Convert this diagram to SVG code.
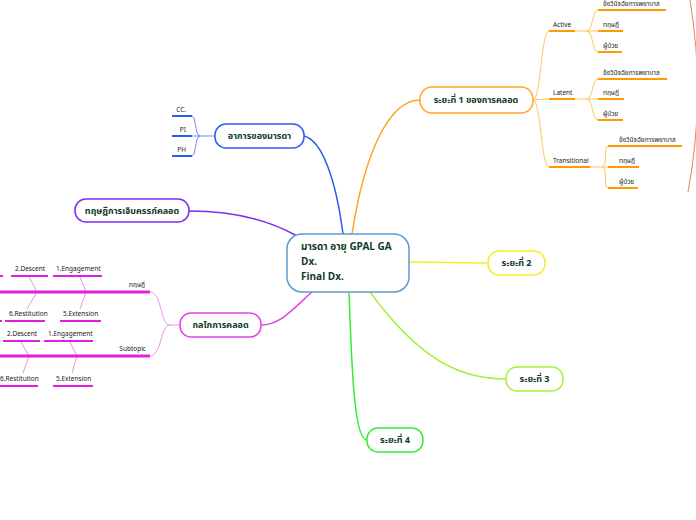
<svg xmlns="http://www.w3.org/2000/svg" width="696" height="520" viewBox="0 0 696 520">
<style>
.t{font-family:"Noto Sans Thai","Noto Sans","DejaVu Sans",sans-serif;fill:#0f3b26;font-weight:bold;}
.s{font-family:"Noto Sans Thai","Noto Sans","DejaVu Sans",sans-serif;fill:#222;font-size:6.5px;}
.node{fill:#fff;stroke-width:1.5;}
.c{fill:none;stroke-width:1.5;}
.b{fill:none;stroke-width:1;}
.u{fill:none;stroke-width:2;}
</style>
<rect width="696" height="520" fill="#fff"/>
<g id="connectors">
  <path class="c" stroke="#ffa526" d="M352,234 C365,150 390,100 420,100"/>
  <path class="c" stroke="#2a5cf0" d="M343,234 C336,180 322,140 304,136"/>
  <path class="c" stroke="#7b2cf5" d="M297,236 C260,215 220,211 189,211"/>
  <path class="c" stroke="#e444e4" d="M313,291 C292,310 280,325 261,325"/>
  <path class="c" stroke="#f0f02a" d="M409,262 C440,262 460,263 488,263"/>
  <path class="c" stroke="#a6f23e" d="M370,292 C420,360 460,379 506,379"/>
  <path class="c" stroke="#35ec35" d="M349,292 C352,380 355,440 367,440"/>
  <g stroke="#ffc45a">
    <path class="b" d="M533,100 C541,100 541,31 549,31"/>
    <path class="b" d="M533,100 L549,99"/>
    <path class="b" d="M533,100 C541,100 541,167 549,167"/>
    <path class="b" d="M575,31 L587,31 C593,31 592,10 598,10"/>
    <path class="b" d="M587,31 L598,31"/>
    <path class="b" d="M587,31 C593,31 592,52 598,52"/>
    <path class="b" d="M575,99 L587,99 C593,99 592,79 598,79"/>
    <path class="b" d="M587,99 L598,99"/>
    <path class="b" d="M587,99 C593,99 592,120 598,120"/>
    <path class="b" d="M590,167 L602,167 C608,167 603,146 608,146"/>
    <path class="b" d="M602,167 L608,167"/>
    <path class="b" d="M602,167 C608,167 603,188 608,188"/>
  </g>
  <g stroke="#ff9a00">
    <path class="u" d="M549,31 H575 M549,99 H575 M549,167 H590"/>
    <path class="u" d="M598,10 H666 M598,31 H623 M598,52 H622"/>
    <path class="u" d="M598,79 H667 M598,99 H624 M598,120 H623"/>
    <path class="u" d="M608,146 H682 M608,167 H639 M608,188 H638"/>
  </g>
  <path fill="none" stroke="#e8825e" stroke-width="1" d="M690,0 Q706,96 688,192"/>
  <g stroke="#6f8cf5">
    <path class="b" d="M215,136 H200 C195,136 196,116 192,116"/>
    <path class="b" d="M200,136 H192"/>
    <path class="b" d="M200,136 C195,136 196,156 192,156"/>
  </g>
  <path class="u" stroke="#2a5cf0" d="M172,116 H192 M172,136 H192 M172,156 H192"/>
  <g stroke="#f08ef0">
    <path class="b" d="M180,325 H170 C160,325 162,292 150,292"/>
    <path class="b" d="M170,325 C160,325 162,356 150,356"/>
    <path class="b" d="M29,277 L37,292 L27,309"/>
    <path class="b" d="M80,277 L86,292 L80,309"/>
    <path class="b" d="M21,342 L29,356 L23,373"/>
    <path class="b" d="M70,342 L77,356 L72,373"/>
  </g>
  <g stroke="#e020e0">
    <path stroke-width="3" d="M0,292 H150 M0,356 H150"/>
    <path class="u" d="M0,276 H3 M11,276 H48 M53,276 H102"/>
    <path class="u" d="M0,321 H2 M5,321 H45 M60,321 H101"/>
    <path class="u" d="M3,341 H40 M44,341 H93"/>
    <path class="u" d="M0,386 H38 M53,386 H93"/>
  </g>
</g>
<g id="center">
  <rect class="node" stroke="#5b9bd5" x="287" y="234" width="122" height="58" rx="15"/>
  <text class="t" font-size="10" x="301" y="250">มารดา อายุ GPAL GA</text>
  <text class="t" font-size="10" x="301" y="265">Dx.</text>
  <text class="t" font-size="10" x="301" y="280">Final Dx.</text>
</g>
<g id="stage1">
  <rect class="node" stroke="#ffa526" x="420" y="87" width="113" height="26" rx="12"/>
  <text class="t" font-size="9" x="476" y="103" text-anchor="middle">ระยะที่ 1 ของการคลอด</text>
</g>
<g id="active"><text class="s" x="553" y="27">Active</text></g>
<g id="active-dx"><text class="s" x="603" y="6">ข้อวินิจฉัยการพยาบาล</text></g>
<g id="active-th"><text class="s" x="603" y="27">ทฤษฎี</text></g>
<g id="active-pt"><text class="s" x="603" y="48">ผู้ป่วย</text></g>
<g id="latent"><text class="s" x="553" y="95">Latent</text></g>
<g id="latent-dx"><text class="s" x="603" y="75">ข้อวินิจฉัยการพยาบาล</text></g>
<g id="latent-th"><text class="s" x="603" y="95">ทฤษฎี</text></g>
<g id="latent-pt"><text class="s" x="603" y="116">ผู้ป่วย</text></g>
<g id="transitional"><text class="s" x="553" y="163">Transitional</text></g>
<g id="trans-dx"><text class="s" x="619" y="142">ข้อวินิจฉัยการพยาบาล</text></g>
<g id="trans-th"><text class="s" x="619" y="163">ทฤษฎี</text></g>
<g id="trans-pt"><text class="s" x="619" y="184">ผู้ป่วย</text></g>
<g id="symptoms">
  <rect class="node" stroke="#2a5cf0" x="215" y="124" width="89" height="24" rx="11"/>
  <text class="t" font-size="9" x="259.5" y="139" text-anchor="middle">อาการของมารดา</text>
</g>
<g id="cc"><text class="s" x="186" y="112" text-anchor="end">CC.</text></g>
<g id="pi"><text class="s" x="186" y="132" text-anchor="end">PI</text></g>
<g id="ph"><text class="s" x="186" y="152" text-anchor="end">PH</text></g>
<g id="theory">
  <rect class="node" stroke="#7b2cf5" x="75" y="199" width="114" height="23" rx="11"/>
  <text class="t" font-size="9" x="132" y="214" text-anchor="middle">ทฤษฎีการเจ็บครรภ์คลอด</text>
</g>
<g id="mechanism">
  <rect class="node" stroke="#e444e4" x="180" y="313" width="81" height="24" rx="11"/>
  <text class="t" font-size="9" x="220.5" y="328" text-anchor="middle">กลไกการคลอด</text>
</g>
<g id="fb1"><text class="s" x="145" y="287" text-anchor="end">ทฤษฎี</text></g>
<g id="fb1-2"><text class="s" x="15" y="271">2.Descent</text></g>
<g id="fb1-1"><text class="s" x="56" y="271">1.Engagement</text></g>
<g id="fb1-6"><text class="s" x="9" y="316">6.Restitution</text></g>
<g id="fb1-5"><text class="s" x="63" y="316">5.Extension</text></g>
<g id="fb2"><text class="s" x="146" y="351" text-anchor="end">Subtopic</text></g>
<g id="fb2-2"><text class="s" x="7" y="336">2.Descent</text></g>
<g id="fb2-1"><text class="s" x="48" y="336">1.Engagement</text></g>
<g id="fb2-6"><text class="s" x="0" y="381">6.Restitution</text></g>
<g id="fb2-5"><text class="s" x="56" y="381">5.Extension</text></g>
<g id="stage2">
  <rect class="node" stroke="#f0f02a" x="488" y="251" width="57" height="24" rx="11"/>
  <text class="t" font-size="9" x="516.5" y="266" text-anchor="middle">ระยะที่ 2</text>
</g>
<g id="stage3">
  <rect class="node" stroke="#a6f23e" x="506" y="367" width="57" height="24" rx="11"/>
  <text class="t" font-size="9" x="534.5" y="382" text-anchor="middle">ระยะที่ 3</text>
</g>
<g id="stage4">
  <rect class="node" stroke="#35ec35" x="367" y="428" width="56" height="24" rx="11"/>
  <text class="t" font-size="9" x="395" y="443" text-anchor="middle">ระยะที่ 4</text>
</g>
</svg>
